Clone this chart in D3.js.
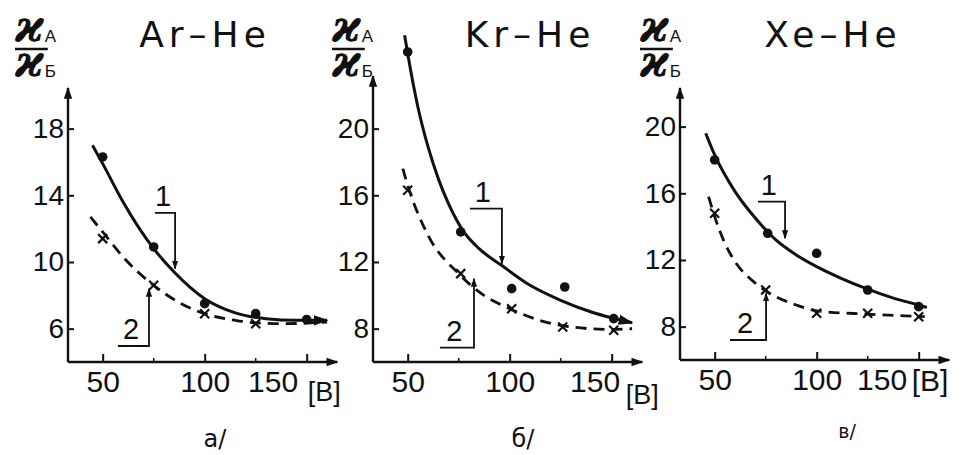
<!DOCTYPE html>
<html>
<head>
<meta charset="utf-8">
<script src="https://cdn.jsdelivr.net/npm/d3@7"></script>
<style>
  body { margin: 0; background: #fff; }
  svg { display: block; }
  text { fill: #111; }
</style>
</head>
<body>
<svg id="chart"></svg>
<script>
let width = 972
let height = 455

// panel names and labels
let titles = ["Ar\u2013He", "Kr\u2013He", "Xe\u2013He"]
let captions = ["а/", "б/", "в/"]
let xTicks = [50, 100, 150]
let xMinor = [75, 125]
let yTicksA = [6, 10, 14, 18]
let yTicksB = [8, 12, 16, 20]
let yTicksC = [8, 12, 16, 20]

// measured points, curve 1 (dots) and curve 2 (crosses)
let dotsA = [[50, 16.3], [75, 10.9], [100, 7.5], [125, 6.9], [150, 6.55]]
let crossA = [[50, 11.4], [75, 8.6], [100, 6.9], [125, 6.3]]
let dotsB = [[50, 24.6], [76, 13.8], [101, 10.4], [127, 10.5], [151, 8.6]]
let crossB = [[50, 16.3], [76, 11.3], [101, 9.2], [126, 8.1], [151, 7.9]]
let dotsC = [[50, 18.0], [76, 13.6], [100, 12.4], [125, 10.2], [150, 9.2]]
let crossC = [[50, 14.8], [75, 10.2], [100, 8.8], [125, 8.8], [150, 8.6]]

// fitted curves
let curve1A = [[45, 17.0], [50, 15.9], [60, 13.6], [75, 10.8], [85, 9.4], [100, 7.8], [115, 6.95], [130, 6.6], [145, 6.5], [160, 6.5]]
let curve2A = [[44, 12.7], [50, 11.8], [60, 10.3], [75, 8.6], [87, 7.6], [100, 6.9], [115, 6.5], [125, 6.35], [140, 6.3], [160, 6.4]]
let curve1B = [[48.5, 25.6], [50, 24.5], [55, 21.3], [60, 18.9], [65, 17.0], [70, 15.5], [77, 13.9], [85, 12.8], [96, 11.8], [110, 10.6], [125, 9.7], [140, 9.0], [150, 8.65], [160, 8.35]]
let curve2B = [[47.6, 17.6], [50, 16.6], [60, 13.6], [75, 11.3], [85, 10.2], [100, 9.2], [125, 8.2], [150, 7.95], [160, 8.0]]
let curve1C = [[45.6, 19.6], [50, 18.3], [60, 16.1], [70, 14.5], [80, 13.2], [90, 12.3], [100, 11.6], [112, 10.9], [125, 10.25], [138, 9.7], [150, 9.3], [154, 9.15]]
let curve2C = [[47, 15.8], [50, 14.6], [55, 13.0], [60, 11.9], [70, 10.6], [80, 9.8], [90, 9.3], [100, 8.95], [125, 8.75], [153, 8.6]]

// leader lines for labels "1" and "2": [xStart, xEnd, yLine, yTip]
let lead1A = [75.6, 85.5, 12.95, 9.6]
let lead2A = [57.5, 72.7, 4.96, 8.4]
let lead1B = [80.5, 96.2, 15.2, 11.9]
let lead2B = [65.8, 82.5, 6.86, 11.0]
let lead1C = [71.2, 84.5, 15.5, 13.3]
let lead2C = [57.5, 75.2, 7.2, 10.0]

let panels = [
  {left: 68, bottom: 362, yMin: 4, top: 88, yTicks: yTicksA, dots: dotsA, cross: crossA, c1: curve1A, c2: curve2A, l1: lead1A, l2: lead2A,
   titleX: 205, labelX: 15, capX: 215, capY: 447, capSize: 24, endDx: -9, unitDx: 1, unitY: 401, unitSize: 27, endArrow: true},
  {left: 373, bottom: 362, yMin: 6, top: 76, yTicks: yTicksB, dots: dotsB, cross: crossB, c1: curve1B, c2: curve2B, l1: lead1B, l2: lead2B,
   titleX: 530, labelX: 332, capX: 523, capY: 447, capSize: 24, endDx: 8, unitDx: 14, unitY: 404, unitSize: 27, endArrow: true},
  {left: 680, bottom: 360, yMin: 6, top: 88, yTicks: yTicksC, dots: dotsC, cross: crossC, c1: curve1C, c2: curve2C, l1: lead1C, l2: lead2C,
   titleX: 833, labelX: 640, capX: 847, capY: 438, capSize: 19, endDx: -12, unitDx: -7, unitY: 391, unitSize: 30, endArrow: false}
]

let pxPerX = 2.04
let pxPerY = 16.67

let svg = d3.select('#chart')
  .attr('width', width)
  .attr('height', height)

let defs = svg.append('defs')
defs.append('marker')
  .attr('id', 'arrow')
  .attr('viewBox', '0 0 10 10')
  .attr('refX', 9)
  .attr('refY', 5)
  .attr('markerWidth', 5)
  .attr('markerHeight', 5)
  .attr('markerUnits', 'strokeWidth')
  .attr('orient', 'auto')
  .append('path')
  .attr('d', 'M0,1.5 L10,5 L0,8.5 Z')
  .attr('fill', '#111')

let font = "'Liberation Sans', 'DejaVu Sans', sans-serif"

let drawPanel = (p, i) => {
  let xScale = d3.scaleLinear()
    .domain([33, 165])
    .range([p.left, p.left + 132 * pxPerX])
  let yMax = p.yMin + (p.bottom - p.top) / pxPerY
  let yScale = d3.scaleLinear()
    .domain([p.yMin, yMax])
    .range([p.bottom, p.top])

  let g = svg.append('g')

  // axes lines with arrows
  g.append('line')
    .attr('x1', p.left).attr('y1', p.bottom)
    .attr('x2', p.left).attr('y2', p.top)
    .attr('stroke', '#111').attr('stroke-width', 2.4)
    .attr('marker-end', 'url(#arrow)')
  g.append('line')
    .attr('x1', p.left).attr('y1', p.bottom)
    .attr('x2', xScale(165)).attr('y2', p.bottom)
    .attr('stroke', '#111').attr('stroke-width', 2.4)
    .attr('marker-end', 'url(#arrow)')

  let yAxis = d3.axisLeft(yScale)
    .tickValues(p.yTicks)
    .tickSize(-6)
    .tickSizeOuter(0)
    .tickPadding(4)
  let ya = g.append('g')
    .attr('transform', 'translate(' + p.left + ',0)')
    .call(yAxis)
  ya.select('.domain').remove()
  ya.selectAll('line').attr('stroke', '#111').attr('stroke-width', 2)
  ya.selectAll('text')
    .attr('font-family', font)
    .attr('font-size', 28)
    .attr('fill', '#111')

  let xAxis = d3.axisBottom(xScale)
    .tickValues(xTicks)
    .tickSize(-8)
    .tickSizeOuter(0)
    .tickPadding(9)
  let xa = g.append('g')
    .attr('transform', 'translate(0,' + p.bottom + ')')
    .call(xAxis)
  xa.select('.domain').remove()
  xa.selectAll('line').attr('stroke', '#111').attr('stroke-width', 2)
  xa.selectAll('text')
    .attr('font-family', font)
    .attr('font-size', 30)
    .attr('fill', '#111')
  // last label sits next to the unit
  xa.selectAll('text')
    .filter((d) => d === 150)
    .attr('text-anchor', 'end')
    .attr('x', p.endDx)

  g.selectAll('.minor')
    .data(xMinor)
    .enter()
    .append('line')
    .attr('x1', (d) => xScale(d)).attr('x2', (d) => xScale(d))
    .attr('y1', p.bottom).attr('y2', p.bottom - 4)
    .attr('stroke', '#111').attr('stroke-width', 1.5)

  // unit [В]
  g.append('text')
    .attr('x', xScale(150) + p.unitDx)
    .attr('y', p.unitY)
    .attr('font-family', font)
    .attr('font-size', p.unitSize)
    .text('[В]')

  // title
  g.append('text')
    .attr('x', p.titleX)
    .attr('y', 47)
    .attr('text-anchor', 'middle')
    .attr('font-family', "'DejaVu Sans', sans-serif")
    .attr('font-size', 36)
    .attr('letter-spacing', 5)
    .text(titles[i])

  // y label: ϰA / ϰБ
  let lx = p.labelX
  let fracPart = (y, sub) => {
    let k = g.append('text')
      .attr('x', lx).attr('y', y)
      .attr('font-family', "'DejaVu Serif', serif")
      .attr('font-style', 'italic')
      .attr('font-weight', 'bold')
      .attr('font-size', 44)
      .text('ϰ')
    let w = k.node().getComputedTextLength()
    g.append('text')
      .attr('x', lx + w + 1).attr('y', y)
      .attr('font-family', font)
      .attr('font-size', 17)
      .text(sub)
    return w
  }
  let w = fracPart(42, 'A')
  fracPart(77, 'Б')
  g.append('line')
    .attr('x1', lx).attr('x2', lx + w + 4)
    .attr('y1', 49).attr('y2', 49)
    .attr('stroke', '#111').attr('stroke-width', 2.5)

  // curves
  let line = d3.line()
    .x((d) => xScale(d[0]))
    .y((d) => yScale(d[1]))
    .curve(d3.curveMonotoneX)

  g.append('path')
    .datum(p.c2)
    .attr('d', line)
    .attr('fill', 'none')
    .attr('stroke', '#111')
    .attr('stroke-width', 2.8)
    .attr('stroke-dasharray', '11,7')

  let c1 = g.append('path')
    .datum(p.c1)
    .attr('d', line)
    .attr('fill', 'none')
    .attr('stroke', '#111')
    .attr('stroke-width', 3)
  if (p.endArrow) c1.attr('marker-end', 'url(#arrow)')

  g.selectAll('.dot')
    .data(p.dots)
    .enter()
    .append('circle')
    .attr('cx', (d) => xScale(d[0]))
    .attr('cy', (d) => yScale(d[1]))
    .attr('r', 4.8)
    .attr('fill', '#111')

  g.selectAll('.cross')
    .data(p.cross)
    .enter()
    .append('path')
    .attr('transform', (d) => 'translate(' + xScale(d[0]) + ',' + yScale(d[1]) + ')')
    .attr('d', 'M-4.5,-4.5L4.5,4.5M4.5,-4.5L-4.5,4.5')
    .attr('stroke', '#111')
    .attr('stroke-width', 2.2)

  // leaders with labels
  let leader = (l, label, up) => {
    let x0 = xScale(l[0]), x1 = xScale(l[1]), yl = yScale(l[2]), yt = yScale(l[3])
    g.append('path')
      .attr('d', 'M' + x0 + ',' + yl + 'L' + x1 + ',' + yl + 'L' + x1 + ',' + yt)
      .attr('fill', 'none')
      .attr('stroke', '#111')
      .attr('stroke-width', 1.8)
      .attr('marker-end', 'url(#arrow)')
    g.append('text')
      .attr('x', x0 + (x1 - x0) * (up ? 0.42 : 0.4))
      .attr('y', yl - 7)
      .attr('text-anchor', 'middle')
      .attr('font-family', font)
      .attr('font-size', 29)
      .text(label)
  }
  leader(p.l1, '1', false)
  leader(p.l2, '2', true)

  // caption
  g.append('text')
    .attr('x', p.capX)
    .attr('y', p.capY)
    .attr('text-anchor', 'middle')
    .attr('font-family', "'DejaVu Sans', sans-serif")
    .attr('font-size', p.capSize)
    .text(captions[i])
}

panels.forEach(drawPanel)
</script>
</body>
</html>
